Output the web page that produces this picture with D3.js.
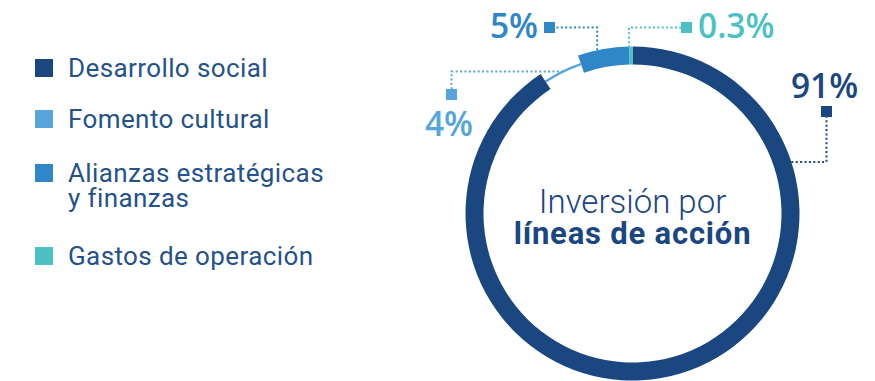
<!DOCTYPE html>
<html>
<head>
<meta charset="utf-8">
<script src="https://cdn.jsdelivr.net/npm/d3@7"></script>
<style>
  body { margin: 0; background: #fff; }
  svg { display: block; }
</style>
</head>
<body>
<div id="chart"></div>
<script>
// data
var categories = ["Desarrollo social", "Fomento cultural", "Alianzas estratégicas y finanzas", "Gastos de operación"];
var values = [91, 4, 5, 0.3];
var labels = ["91%", "4%", "5%", "0.3%"];
var colors = ["#1b4781", "#56a6dd", "#2f87c7", "#4bc1c4"];

var width = 875, height = 381;
var cx = 632.5, cy = 213.5, rOuter = 167, rInner = 149;

var svg = d3.select("#chart")
    .append("svg")
    .attr("width", width)
    .attr("height", height);

// legend
var legendRows = [
    { y: 68, lines: ["Desarrollo social"] },
    { y: 119, lines: ["Fomento cultural"] },
    { y: 173, lines: ["Alianzas estratégicas", "y finanzas"] },
    { y: 256, lines: ["Gastos de operación"] }
];
var legend = svg.append("g");
legendRows.forEach(function (row, i) {
    legend.append("rect")
        .attr("x", 35).attr("y", row.y - 9)
        .attr("width", 18).attr("height", 18)
        .attr("fill", colors[i]);
    var t = legend.append("text")
        .attr("x", 68).attr("y", row.y + 9)
        .attr("font-family", "Roboto")
        .attr("font-size", 26)
        .attr("letter-spacing", 0.4)
        .attr("fill", "#24528a");
    row.lines.forEach(function (l, j) {
        t.append("tspan").attr("x", 68).attr("dy", j == 0 ? 0 : 25).text(l);
    });
});

// donut
var pie = d3.pie().sort(null).value(function (d) { return d; });
var arcs = pie(values);
var arc = d3.arc().innerRadius(rInner).outerRadius(rOuter);
var thinArc = d3.arc().innerRadius((rInner + rOuter) / 2 - 1.2).outerRadius((rInner + rOuter) / 2 + 1.2);

var g = svg.append("g").attr("transform", "translate(" + cx + "," + cy + ")");
g.selectAll("path")
    .data(arcs)
    .enter()
    .append("path")
    .attr("d", function (d, i) { return i == 1 ? thinArc(d) : arc(d); })
    .attr("fill", function (d, i) { return colors[i]; });

// center title
g.append("text")
    .attr("text-anchor", "middle")
    .attr("y", -1)
    .attr("font-family", "Roboto")
    .attr("font-weight", 300)
    .attr("font-size", 33)
    .attr("fill", "#1b4781")
    .text("Inversión por");
g.append("text")
    .attr("text-anchor", "middle")
    .attr("y", 30)
    .attr("font-family", "Roboto")
    .attr("font-weight", 700)
    .attr("font-size", 31)
    .attr("letter-spacing", 0.8)
    .attr("fill", "#1b4781")
    .text("líneas de acción");

// callouts: angle (deg) where leader meets the ring, radius, elbow, marker and label placement
var callouts = [
    { a: 72, r: rOuter, path: "h", mx: 826.5, my: 111.5, tx: 824.5, ty: 98, anchor: "middle" },
    { a: -26, r: (rInner + rOuter) / 2, path: "h", mx: 451.5, my: 94.5, tx: 449, ty: 136, anchor: "middle" },
    { a: -12.2, r: rOuter, path: "v", mx: 549.5, my: 27.5, tx: 538, ty: 38, anchor: "end" },
    { a: -1.2, r: rOuter - 1, path: "v", mx: 686.5, my: 27.5, tx: 698, ty: 38, anchor: "start" }
];

callouts.forEach(function (c, i) {
    var rad = c.a * Math.PI / 180;
    var px = cx + c.r * Math.sin(rad), py = cy - c.r * Math.cos(rad);
    var pts;
    if (c.path == "h") pts = [[px, py], [c.mx, py], [c.mx, c.my]];
    else pts = [[px, py], [px, c.my], [c.mx, c.my]];
    svg.append("path")
        .attr("d", d3.line()(pts))
        .attr("fill", "none")
        .attr("stroke", colors[i])
        .attr("stroke-width", 2)
        .attr("stroke-dasharray", "2,2.4");
    svg.append("rect")
        .attr("x", c.mx - 5.5).attr("y", c.my - 5.5)
        .attr("width", 11).attr("height", 11)
        .attr("fill", colors[i]);
    svg.append("text")
        .attr("x", c.tx).attr("y", c.ty)
        .attr("text-anchor", c.anchor)
        .attr("font-family", "Open Sans")
        .attr("font-weight", 600)
        .attr("font-size", 33.5)
        .attr("fill", colors[i])
        .text(labels[i]);
});
</script>
</body>
</html>
